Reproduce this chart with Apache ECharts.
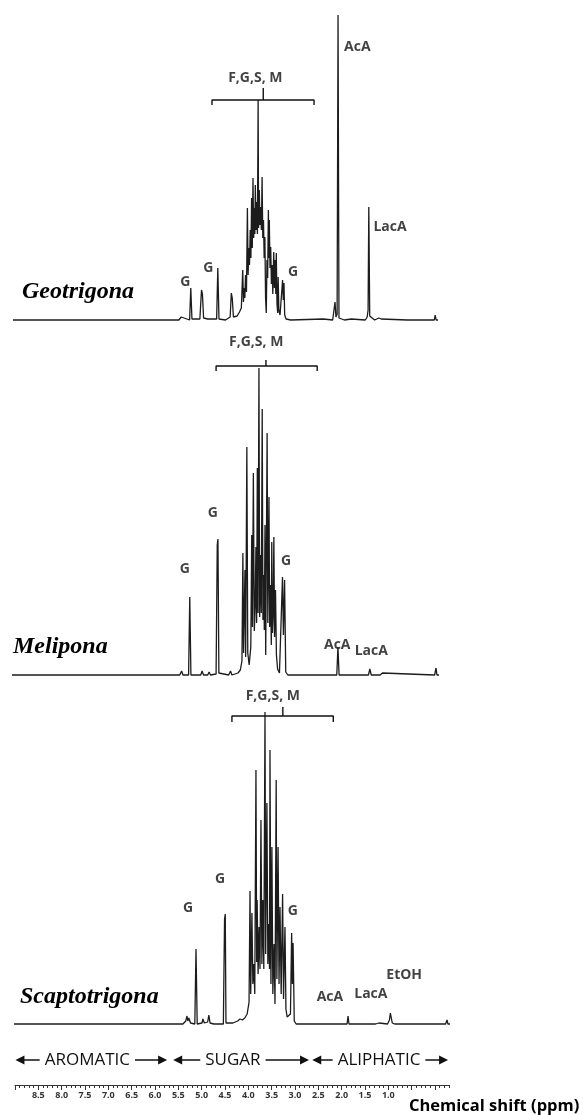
<!DOCTYPE html>
<html><head><meta charset="utf-8">
<script src="https://cdn.jsdelivr.net/npm/echarts@6/dist/echarts.min.js"></script>
<style>html,body{margin:0;padding:0;background:#fff}#c{width:583px;height:1115px}</style>
</head><body><div id="c"></div>
<script>
// ---------- DATA ----------
const species = ['Geotrigona', 'Melipona', 'Scaptotrigona'];

// spectrum traces: [chemical shift (ppm), intensity]
const geoTrace = [[9.06,0],[5.50,0],[5.45,3],[5.42,1],[5.27,0],[5.245,32],[5.22,1],[5.05,1],[5.015,30],[4.995,26],[4.97,2],[4.88,1],[4.84,3],[4.80,1],[4.69,1],[4.665,52],[4.64,1],[4.50,0],[4.40,3],[4.375,27],[4.355,22],[4.33,3],[4.25,4],[4.20,8],[4.16,12],[4.13,50],[4.115,18],[4.10,32],[4.085,22],[4.07,45],[4.05,28],[4.03,112],[4.015,45],[4.00,72],[3.985,55],[3.97,90],[3.955,62],[3.94,122],[3.925,72],[3.91,142],[3.895,82],[3.88,112],[3.87,86],[3.86,135],[3.845,90],[3.83,118],[3.815,86],[3.80,220],[3.79,92],[3.775,130],[3.76,95],[3.745,113],[3.73,90],[3.715,143],[3.70,82],[3.685,100],[3.67,62],[3.655,83],[3.64,22],[3.625,7],[3.61,60],[3.595,42],[3.58,110],[3.57,62],[3.56,100],[3.545,52],[3.53,73],[3.515,36],[3.50,55],[3.485,26],[3.465,68],[3.45,32],[3.435,60],[3.42,26],[3.41,67],[3.395,16],[3.38,7],[3.37,43],[3.355,10],[3.33,5],[3.30,3],[3.275,40],[3.26,20],[3.245,37],[3.23,5],[3.20,1],[3.10,0],[2.40,1],[2.20,0],[2.17,2],[2.15,18],[2.13,3],[2.105,6],[2.085,305],[2.065,2],[1.95,0],[1.80,1],[1.50,0],[1.46,3],[1.44,10],[1.425,113],[1.405,4],[1.30,0],[1.21,2],[1.19,4],[1.16,1],[0.60,0],[0.02,0],[0.00,5],[-0.02,0],[-0.06,0]];

const meliTrace = [[9.10,0],[5.50,0],[5.46,4],[5.43,0],[5.31,0],[5.285,78],[5.26,0],[5.05,0],[5.02,4],[4.99,0],[4.90,0],[4.87,3],[4.84,0],[4.72,1],[4.695,130],[4.68,136],[4.66,2],[4.45,0],[4.41,4],[4.38,0],[4.25,2],[4.20,5],[4.165,14],[4.145,122],[4.13,22],[4.10,105],[4.085,18],[4.06,228],[4.04,22],[4.01,10],[3.975,28],[3.955,140],[3.94,48],[3.92,202],[3.90,44],[3.88,70],[3.865,128],[3.85,52],[3.835,207],[3.82,62],[3.80,307],[3.785,58],[3.765,120],[3.75,62],[3.73,266],[3.715,55],[3.70,100],[3.685,45],[3.67,150],[3.655,20],[3.645,18],[3.625,242],[3.61,52],[3.585,178],[3.57,48],[3.55,90],[3.535,30],[3.525,133],[3.51,42],[3.495,60],[3.48,138],[3.465,38],[3.445,85],[3.425,20],[3.40,6],[3.36,2],[3.32,3],[3.295,98],[3.275,40],[3.25,95],[3.225,3],[3.18,0],[2.40,0],[2.13,0],[2.105,28],[2.08,0],[1.60,0],[1.45,0],[1.42,6],[1.39,0],[1.20,0],[1.15,2],[1.12,0],[0.03,0],[0.00,7],[-0.02,0],[-0.064,0]];

const scaptoTrace = [[9.10,0],[5.55,0],[5.49,3],[5.465,8],[5.445,3],[5.425,6],[5.39,1],[5.30,0],[5.275,75],[5.25,0],[5.15,1],[5.13,5],[5.10,1],[5.03,2],[5.005,9],[4.98,1],[4.90,0],[4.70,0],[4.675,105],[4.66,110],[4.645,1],[4.50,1],[4.40,3],[4.35,5],[4.30,4],[4.25,6],[4.20,10],[4.16,22],[4.14,133],[4.125,30],[4.10,111],[4.08,40],[4.06,60],[4.04,30],[4.015,254],[4.00,62],[3.99,124],[3.97,50],[3.95,97],[3.93,55],[3.91,204],[3.89,60],[3.87,124],[3.85,55],[3.825,312],[3.81,70],[3.785,221],[3.765,60],[3.745,100],[3.73,55],[3.72,274],[3.70,40],[3.68,177],[3.66,30],[3.635,80],[3.615,20],[3.59,244],[3.575,45],[3.55,177],[3.53,40],[3.51,117],[3.485,30],[3.455,130],[3.435,25],[3.405,97],[3.385,15],[3.36,7],[3.33,5],[3.29,10],[3.265,91],[3.25,40],[3.235,81],[3.21,3],[3.17,0],[2.20,0],[2.10,0],[2.08,8],[2.06,0],[1.50,0],[1.43,1],[1.41,3],[1.39,1],[1.25,0],[1.21,4],[1.19,11],[1.17,9],[1.15,1],[1.10,0],[0.03,0],[0.00,4],[-0.02,0],[-0.063,0]];

// peak annotations: [ppm, intensity, text]
const geoLabels = [[5.36,38,'G'],[4.87,52,'G'],[3.05,48,'G'],[3.86,242,'F,G,S, M'],[1.67,273,'AcA'],[0.97,93,'LacA']];
const meliLabels = [[5.39,106,'G'],[4.79,162,'G'],[3.22,114,'G'],[3.86,333,'F,G,S, M'],[2.12,30,'AcA'],[1.39,24,'LacA']];
const scaptoLabels = [[5.44,116,'G'],[4.77,145,'G'],[3.24,113,'G'],[3.66,328,'F,G,S, M'],[2.46,27,'AcA'],[1.60,30,'LacA'],[0.90,49,'EtOH']];

// brackets: [from ppm, to ppm, centre tick ppm, level, hook level, tick top]
const geoBracket = [4.79, 2.60, 3.69, 220, 215, 232];
const meliBracket = [4.72, 2.55, 3.65, 309, 304, 315];
const scaptoBracket = [4.52, 2.39, 3.45, 308, 302, 317];

// regions along the shift axis: [name, from ppm, to ppm, text centre ppm]
const regions = [['AROMATIC', 8.99, 5.74, 7.45], ['SUGAR', 5.61, 2.70, 4.33], ['ALIPHATIC', 2.63, -0.28, 1.20]];

// tick labels of the chemical-shift ruler
const rulerLabels = ['8.5','8.0','7.5','7.0','6.5','6.0','5.5','5.0','4.5','4.0','3.5','3.0','2.5','2.0','1.5','1.0'];
const axisTitle = 'Chemical shift (ppm)';

// ---------- LAYOUT ----------
const traces = [geoTrace, meliTrace, scaptoTrace];
const labelSets = [geoLabels, meliLabels, scaptoLabels];
const brackets = [geoBracket, meliBracket, scaptoBracket];
const gridBoxes = [
  {left: 13, width: 425, top: 5, height: 315},
  {left: 12, width: 427, top: 328, height: 347},
  {left: 14, width: 436, top: 680, height: 344},
  {left: 15, width: 434, top: 1084, height: 1},
  {left: 15, width: 420, top: 1084, height: 1}
];
const xRanges = [[-0.06, 9.06], [-0.064, 9.10], [-0.063, 9.10]];
const yMax = [315, 347, 344];
const speciesPos = [[22, 292], [13, 647], [20, 997]];
const ink = '#111';

const chart = echarts.init(document.getElementById('c'));

const xAxis = [], yAxis = [], series = [];
for (let i = 0; i < 3; i++) {
  xAxis.push({gridIndex: i, type: 'value', inverse: true, min: xRanges[i][0], max: xRanges[i][1], show: false});
  yAxis.push({gridIndex: i, type: 'value', min: 0, max: yMax[i], show: false});
  series.push({
    type: 'line', xAxisIndex: i, yAxisIndex: i, data: traces[i], symbol: 'none',
    lineStyle: {color: '#1c1c1c', width: 1.3}, silent: true, clip: false, z: 2
  });
  const b = brackets[i];
  series.push({
    type: 'line', xAxisIndex: i, yAxisIndex: i, symbol: 'none', silent: true, clip: false,
    lineStyle: {color: ink, width: 1.4},
    data: [[b[0], b[4]], [b[0], b[3]], [b[2], b[3]], [b[2], b[5]], [b[2], b[3]], [b[1], b[3]], [b[1], b[4]]]
  });
  series.push({
    type: 'scatter', xAxisIndex: i, yAxisIndex: i, data: labelSets[i], symbolSize: 1,
    itemStyle: {color: 'rgba(0,0,0,0)'}, silent: true, clip: false,
    label: {show: true, position: 'inside', formatter: p => p.data[2],
      fontFamily: 'Open Sans', fontWeight: 'bold', fontSize: 14, color: ink}
  });
}
// ruler: minor ticks + line
xAxis.push({gridIndex: 3, type: 'value', inverse: true, min: -0.3, max: 9.0, interval: 0.1, position: 'bottom',
  axisLine: {show: true, onZero: false, lineStyle: {color: '#333', width: 1.2}},
  axisTick: {show: true, length: 3, lineStyle: {color: '#333', width: 1}},
  axisLabel: {show: false}, splitLine: {show: false}});
yAxis.push({gridIndex: 3, type: 'value', min: 0, max: 1, show: false});
// ruler: major ticks + labels
xAxis.push({gridIndex: 4, type: 'value', inverse: true, min: 0, max: 9.0, interval: 0.5, position: 'bottom',
  axisLine: {show: false, onZero: false},
  axisTick: {show: true, length: 5, lineStyle: {color: '#333', width: 1}},
  axisLabel: {show: true, margin: 6, fontSize: 9, fontWeight: 'bold', color: '#333', fontFamily: 'Open Sans',
    formatter: v => { const s = Number(v).toFixed(1); return rulerLabels.indexOf(s) >= 0 ? s : ''; }},
  splitLine: {show: false}});
yAxis.push({gridIndex: 4, type: 'value', min: 0, max: 1, show: false});

chart.setOption({
  animation: false,
  backgroundColor: '#fff',
  grid: gridBoxes,
  xAxis, yAxis, series
});

// ---------- overlay texts / arrows ----------
const graphic = [];
species.forEach((s, i) => {
  graphic.push({type: 'text', x: speciesPos[i][0], y: speciesPos[i][1], silent: true,
    style: {text: s, font: 'italic bold 24px "Liberation Serif"', fill: '#000', verticalAlign: 'middle', align: 'left'}});
});
const ctx = document.createElement('canvas').getContext('2d');
const regionFont = '17px "Open Sans"';
ctx.font = regionFont;
const ay = 1060, head = 9, hh = 4.5, gap = 5;
regions.forEach(r => {
  const xL = chart.convertToPixel({xAxisIndex: 3}, r[1]);
  const xR = chart.convertToPixel({xAxisIndex: 3}, r[2]);
  const xc = chart.convertToPixel({xAxisIndex: 3}, r[3]);
  const w = ctx.measureText(r[0]).width;
  graphic.push({type: 'text', x: xc, y: ay, silent: true,
    style: {text: r[0], font: regionFont, fill: ink, align: 'center', verticalAlign: 'middle'}});
  graphic.push({type: 'line', silent: true, shape: {x1: xL + head - 1, y1: ay, x2: xc - w / 2 - gap, y2: ay}, style: {stroke: ink, lineWidth: 1.5}});
  graphic.push({type: 'line', silent: true, shape: {x1: xc + w / 2 + gap, y1: ay, x2: xR - head + 1, y2: ay}, style: {stroke: ink, lineWidth: 1.5}});
  graphic.push({type: 'polygon', silent: true, shape: {points: [[xL, ay], [xL + head, ay - hh], [xL + head, ay + hh]]}, style: {fill: ink}});
  graphic.push({type: 'polygon', silent: true, shape: {points: [[xR, ay], [xR - head, ay - hh], [xR - head, ay + hh]]}, style: {fill: ink}});
});
graphic.push({type: 'text', x: 409, y: 1106, silent: true,
  style: {text: axisTitle, font: 'bold 16.5px "Open Sans"', fill: '#000', verticalAlign: 'middle', align: 'left'}});
chart.setOption({graphic});
</script></body></html>
